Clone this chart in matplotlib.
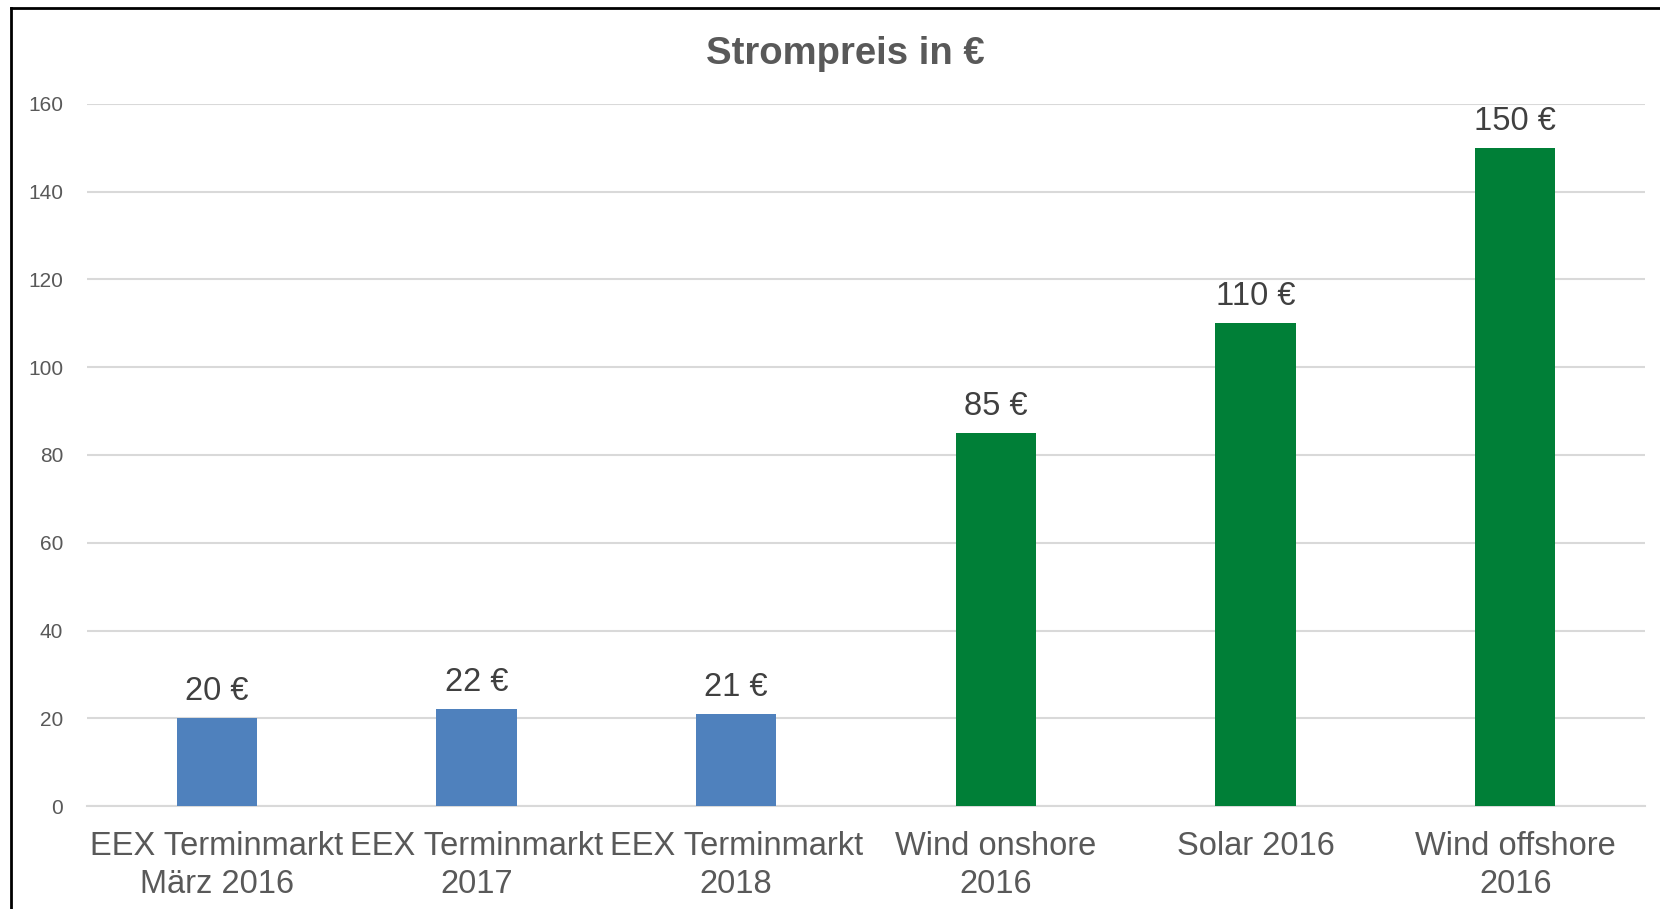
import numpy as np
import matplotlib.pyplot as plt
from matplotlib.lines import Line2D

plt.rcParams['font.family'] = ['Liberation Sans', 'DejaVu Sans']

# --- Daten ---
kategorien = ['EEX Terminmarkt\nMärz 2016', 'EEX Terminmarkt\n2017', 'EEX Terminmarkt\n2018',
              'Wind onshore\n2016', 'Solar 2016', 'Wind offshore\n2016']
preise = [20, 22, 21, 85, 110, 150]
farben = ['#4F81BD', '#4F81BD', '#4F81BD', '#007F37', '#007F37', '#007F37']
y_ticks = [0, 20, 40, 60, 80, 100, 120, 140, 160]

textfarbe = '#595959'

fig = plt.figure(figsize=(16.6, 9.09), dpi=100)
ax = fig.add_axes([0.0524, 0.1133, 0.9386, 0.7723])

x = np.arange(len(kategorien))
bars = ax.bar(x, preise, width=0.31, color=farben, zorder=3)

# Datenbeschriftungen
for xi, val in zip(x, preise):
    ax.annotate(f'{val} €', (xi, val), xytext=(0, 8), textcoords='offset points',
                ha='center', va='bottom', fontsize=23.5, color='#404040')

ax.set_xlim(-0.5, len(kategorien) - 0.5)
ax.set_ylim(0, 160)
ax.set_yticks(y_ticks)
ax.set_xticks(x)
ax.set_xticklabels(kategorien, fontsize=23.5, color=textfarbe, linespacing=1.28)
ax.tick_params(axis='y', labelsize=15, labelcolor=textfarbe, length=0, pad=17)
ax.tick_params(axis='x', length=0, pad=18)

ax.grid(axis='y', color='#D9D9D9', linewidth=1.5, zorder=0)
for s in ['top', 'right', 'left']:
    ax.spines[s].set_visible(False)
ax.spines['bottom'].set_color('#D9D9D9')
ax.spines['bottom'].set_linewidth(1.5)

fig.text(0.509, 0.941, 'Strompreis in €', ha='center', va='center',
         fontsize=27.5, fontweight='bold', color=textfarbe)

# Rahmen (links und oben)
fig.add_artist(Line2D([11 / 1660, 11 / 1660], [0, 1 - 8 / 909], color='black', lw=2))
fig.add_artist(Line2D([11 / 1660, 1], [1 - 8 / 909, 1 - 8 / 909], color='black', lw=2))

fig.savefig('out.png', dpi=100)
